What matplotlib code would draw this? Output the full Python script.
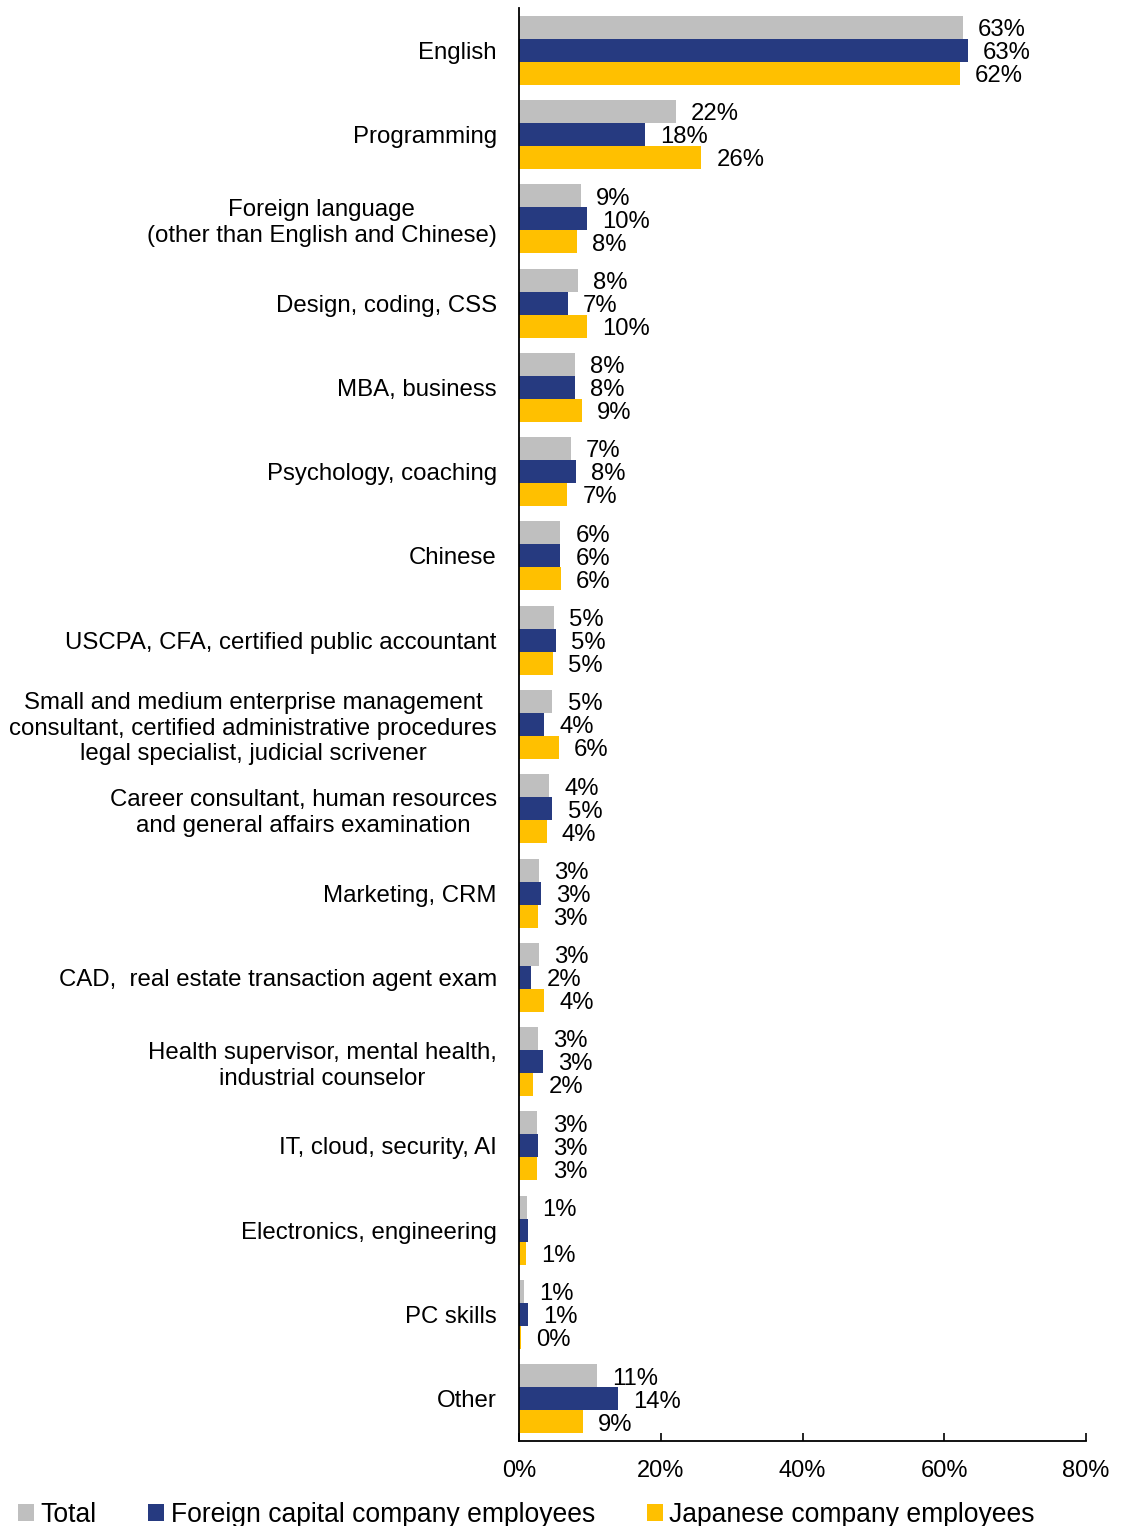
import numpy as np
import matplotlib.pyplot as plt
from matplotlib.ticker import PercentFormatter

plt.rcParams['font.family'] = ['Liberation Sans', 'DejaVu Sans']

categories = [
    "English",
    "Programming",
    "Foreign language\n(other than English and Chinese)",
    "Design, coding, CSS",
    "MBA, business",
    "Psychology, coaching",
    "Chinese",
    "USCPA, CFA, certified public accountant",
    "Small and medium enterprise management\nconsultant, certified administrative procedures\nlegal specialist, judicial scrivener",
    "Career consultant, human resources\nand general affairs examination",
    "Marketing, CRM",
    "CAD,  real estate transaction agent exam",
    "Health supervisor, mental health,\nindustrial counselor",
    "IT, cloud, security, AI",
    "Electronics, engineering",
    "PC skills",
    "Other",
]

# shares in percent
total = [62.6, 22.1, 8.7, 8.3, 7.9, 7.3, 5.8, 4.9, 4.7, 4.2, 2.8, 2.8, 2.7, 2.6, 1.1, 0.7, 11.0]
foreign = [63.3, 17.8, 9.6, 6.9, 7.9, 8.0, 5.8, 5.2, 3.5, 4.7, 3.1, 1.7, 3.4, 2.7, 1.2, 1.2, 14.0]
japanese = [62.2, 25.7, 8.2, 9.6, 8.9, 6.8, 5.9, 4.8, 5.6, 3.9, 2.7, 3.5, 2.0, 2.6, 1.0, 0.3, 9.0]

series_names = ["Total", "Foreign capital company employees", "Japanese company employees"]
colors = ["#BFBFBF", "#263A80", "#FFC000"]
# one data label is missing in the source deck (Electronics, foreign capital)
skip_labels = {(1, 14)}

fig = plt.figure(figsize=(11.23, 15.26), dpi=100)
ax = fig.add_axes([519 / 1123, 85 / 1526, 567 / 1123, 1433 / 1526])

y = np.arange(len(categories))
h = 0.273
for k, (vals, name, col) in enumerate(zip([total, foreign, japanese], series_names, colors)):
    pos = y + (k - 1) * h
    ax.barh(pos, vals, height=h, color=col, label=name)
    for i, (p, v) in enumerate(zip(pos, vals)):
        if (k, i) in skip_labels:
            continue
        ax.annotate(f"{v:.0f}%", (v, p), xytext=(11, -2), textcoords="offset points",
                    va="center", ha="left", fontsize=17.2)

ax.set_xlim(0, 80)
ax.set_ylim(len(categories) - 0.5, -0.5)
ax.set_yticks(y)
ax.set_yticklabels(categories, fontsize=17.3, multialignment="center")
ax.tick_params(axis="y", length=0, pad=16)
ax.set_xticks([0, 20, 40, 60, 80])
ax.xaxis.set_major_formatter(PercentFormatter(decimals=0))
ax.tick_params(axis="x", direction="in", length=5.5, width=1.2, labelsize=17, pad=14)

for s in ["top", "right"]:
    ax.spines[s].set_visible(False)
for s in ["left", "bottom"]:
    ax.spines[s].set_linewidth(1.3)

fig.legend(loc="center left", bbox_to_anchor=(18 / 1123, 11 / 1526), ncol=3,
           frameon=False, fontsize=19.1, handlelength=0.6, handleheight=0.6,
           handletextpad=0.25, columnspacing=1.95, borderpad=0, borderaxespad=0)

fig.savefig("out.png", dpi=100)
